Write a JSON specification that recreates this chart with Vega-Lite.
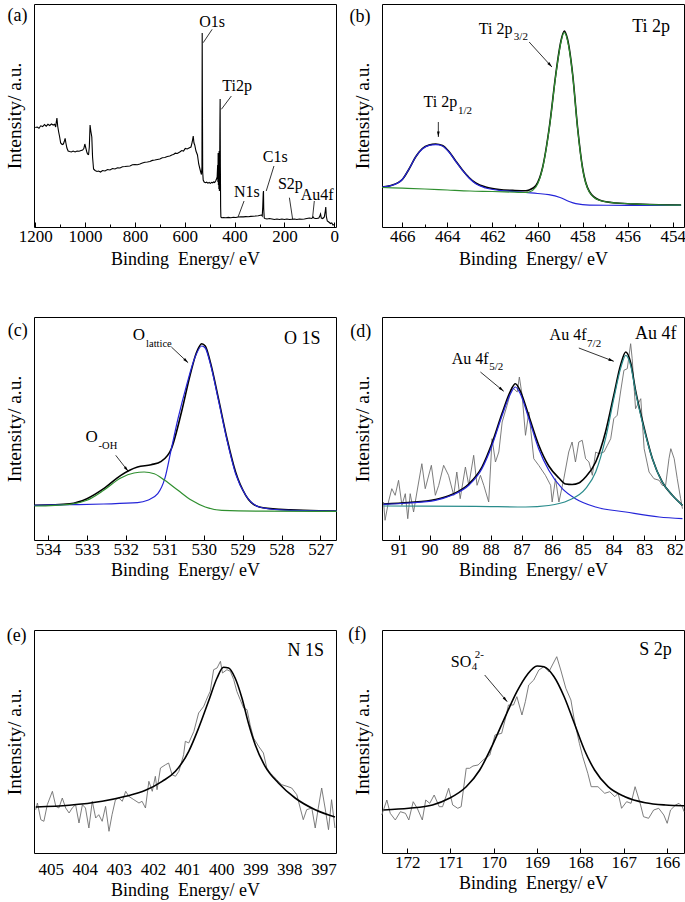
{
"$schema": "https://vega.github.io/schema/vega-lite/v6.json",
"padding": {"left": 3, "top": 3, "right": 0, "bottom": 0},
"background": "white",
"config": {
 "font": "Liberation Serif",
 "view": {"stroke": "#000", "strokeWidth": 1},
 "axis": {"grid": false, "domain": false, "labelFont": "Liberation Serif", "titleFont": "Liberation Serif", "labelFontSize": 17, "titleFontSize": 18, "titleFontWeight": "normal", "labelColor": "#000", "titleColor": "#000", "tickColor": "#000", "tickWidth": 1, "labelPadding": 6, "titlePadding": 4},
 "text": {"font": "Liberation Serif", "color": "#000"}
},
"datasets": {
 "a": [{"e":1200,"i":99.5},{"e":1192,"i":100},{"e":1185,"i":98.8},{"e":1178,"i":101.2},{"e":1170,"i":100.5},{"e":1163,"i":102.5},{"e":1156,"i":100.8},{"e":1149,"i":102.7},{"e":1142,"i":101.5},{"e":1135,"i":103},{"e":1128,"i":102},{"e":1122,"i":102.8},{"e":1118,"i":100},{"e":1115,"i":106},{"e":1113,"i":109},{"e":1110,"i":101},{"e":1106,"i":95},{"e":1102,"i":90},{"e":1098,"i":84},{"e":1092,"i":82.5},{"e":1087,"i":83},{"e":1083,"i":86},{"e":1080,"i":88.7},{"e":1077,"i":84},{"e":1073,"i":79},{"e":1068,"i":76},{"e":1062,"i":75.5},{"e":1055,"i":75},{"e":1048,"i":76},{"e":1040,"i":75},{"e":1032,"i":76},{"e":1024,"i":75.8},{"e":1016,"i":76.5},{"e":1010,"i":77},{"e":1005,"i":78.5},{"e":1001,"i":83},{"e":997,"i":79},{"e":993,"i":75},{"e":990,"i":73},{"e":986,"i":72.5},{"e":983,"i":80},{"e":980,"i":102},{"e":977,"i":96},{"e":973,"i":90},{"e":970,"i":70},{"e":966,"i":58},{"e":960,"i":56.5},{"e":952,"i":55.5},{"e":946,"i":56},{"e":938,"i":55},{"e":930,"i":56.5},{"e":920,"i":56},{"e":910,"i":57.5},{"e":900,"i":57},{"e":890,"i":58.5},{"e":880,"i":58},{"e":870,"i":59.2},{"e":860,"i":59},{"e":850,"i":60.3},{"e":840,"i":60.5},{"e":830,"i":60.8},{"e":820,"i":61},{"e":810,"i":62.2},{"e":800,"i":62.5},{"e":790,"i":62.3},{"e":780,"i":63},{"e":770,"i":64},{"e":760,"i":64.8},{"e":750,"i":65},{"e":740,"i":65.5},{"e":730,"i":66.6},{"e":720,"i":67},{"e":710,"i":67.5},{"e":700,"i":68},{"e":690,"i":69.2},{"e":680,"i":69.5},{"e":670,"i":70.5},{"e":660,"i":71},{"e":650,"i":72.3},{"e":645,"i":72.5},{"e":638,"i":73.8},{"e":630,"i":73.5},{"e":620,"i":75},{"e":612,"i":76.5},{"e":605,"i":76},{"e":598,"i":78.5},{"e":590,"i":78},{"e":583,"i":79},{"e":575,"i":80},{"e":570,"i":85},{"e":566,"i":91},{"e":563,"i":84},{"e":560,"i":82},{"e":555,"i":76},{"e":549,"i":72},{"e":544,"i":63},{"e":540,"i":59},{"e":536,"i":55},{"e":533,"i":52.5},{"e":531,"i":60},{"e":530,"i":194},{"e":529,"i":120},{"e":528,"i":55},{"e":526,"i":47},{"e":522,"i":45},{"e":517,"i":44.3},{"e":512,"i":44.8},{"e":507,"i":43.8},{"e":502,"i":44.5},{"e":497,"i":43.6},{"e":492,"i":44.7},{"e":488,"i":44.2},{"e":484,"i":45},{"e":480,"i":44.5},{"e":476,"i":46},{"e":473,"i":47.7},{"e":470,"i":50},{"e":468,"i":62},{"e":467,"i":45},{"e":466,"i":74},{"e":465,"i":42},{"e":464,"i":70},{"e":463,"i":38},{"e":462,"i":76},{"e":461,"i":36},{"e":460,"i":55},{"e":459,"i":100},{"e":458,"i":128},{"e":457,"i":60},{"e":456,"i":20},{"e":455,"i":10},{"e":452,"i":9.3},{"e":445,"i":9.5},{"e":435,"i":9.2},{"e":425,"i":9.6},{"e":415,"i":9.3},{"e":405,"i":9.8},{"e":395,"i":9.5},{"e":385,"i":10},{"e":375,"i":10.3},{"e":365,"i":10.1},{"e":355,"i":10.4},{"e":345,"i":10.2},{"e":335,"i":10.6},{"e":325,"i":10.8},{"e":315,"i":11},{"e":305,"i":11.3},{"e":297,"i":11.8},{"e":292,"i":12},{"e":289,"i":11},{"e":287,"i":20},{"e":285,"i":34},{"e":284,"i":36},{"e":283,"i":18},{"e":281,"i":9},{"e":278,"i":8.5},{"e":270,"i":8},{"e":260,"i":8.5},{"e":250,"i":8},{"e":240,"i":7.5},{"e":230,"i":8},{"e":220,"i":7.5},{"e":210,"i":8},{"e":200,"i":7.5},{"e":190,"i":8},{"e":180,"i":7.5},{"e":170,"i":7.8},{"e":160,"i":8},{"e":150,"i":7.5},{"e":140,"i":8},{"e":130,"i":7.8},{"e":120,"i":8},{"e":110,"i":8.5},{"e":100,"i":9},{"e":90,"i":8.5},{"e":85,"i":10},{"e":82,"i":9},{"e":76,"i":8.5},{"e":70,"i":8.5},{"e":62,"i":9},{"e":58,"i":11},{"e":55,"i":13},{"e":52,"i":9},{"e":46,"i":8.5},{"e":40,"i":10},{"e":36,"i":16},{"e":34,"i":20},{"e":32,"i":11},{"e":28,"i":6},{"e":22,"i":5},{"e":15,"i":3.5},{"e":10,"i":4},{"e":5,"i":2},{"e":0,"i":2.5}],
 "a_ann": [{"e":490,"i":205,"t":"O1s"},{"e":390,"i":141,"t":"Ti2p"},{"e":237,"i":70,"t":"C1s"},{"e":350.6,"i":35.3,"t":"N1s"},{"e":176,"i":43.3,"t":"S2p"},{"e":69,"i":32,"t":"Au4f"}],
 "a_lead": [{"e":526,"i":184.3,"e2":490,"i2":197.7},{"e":453,"i":117.7,"e2":413,"i2":131},{"e":273,"i":36,"e2":242,"i2":61},{"e":386,"i":10,"e2":362,"i2":26},{"e":167,"i":7.7,"e2":180,"i2":29.3},{"e":87,"i":9.3,"e2":80,"i2":26}],
 "a_lab": [{"e":1271,"i":211,"t":"(a)"}],
 "b_fit": [{"e":466.89,"i":40},{"e":466.5,"i":41.5},{"e":466.0,"i":47.5},{"e":465.7,"i":58},{"e":465.41,"i":70},{"e":465.11,"i":78.5},{"e":464.81,"i":82},{"e":464.52,"i":83},{"e":464.22,"i":81.5},{"e":463.93,"i":75.5},{"e":463.63,"i":66},{"e":463.33,"i":57},{"e":463.04,"i":49.5},{"e":462.74,"i":44},{"e":462.3,"i":40},{"e":462.0,"i":38.5},{"e":461.7,"i":37.5},{"e":461.0,"i":36.5},{"e":460.52,"i":36.2},{"e":460.37,"i":37},{"e":460.07,"i":41.5},{"e":459.78,"i":59},{"e":459.48,"i":99},{"e":459.19,"i":152.5},{"e":459.04,"i":176},{"e":458.96,"i":186},{"e":458.81,"i":196},{"e":458.67,"i":188},{"e":458.44,"i":152.5},{"e":458.22,"i":99},{"e":458.0,"i":59},{"e":457.7,"i":35.5},{"e":457.26,"i":27},{"e":456.52,"i":24},{"e":455.33,"i":22.7},{"e":453.63,"i":22}],
 "b_p12": [{"e":466.89,"i":40},{"e":466.5,"i":41.3},{"e":466.0,"i":47.5},{"e":465.7,"i":58},{"e":465.41,"i":70},{"e":465.11,"i":78},{"e":464.81,"i":81.7},{"e":464.52,"i":82.3},{"e":464.22,"i":81},{"e":463.93,"i":75},{"e":463.63,"i":65.7},{"e":463.33,"i":56.7},{"e":463.04,"i":49},{"e":462.74,"i":43.3},{"e":462.3,"i":39},{"e":461.7,"i":36.7},{"e":461.0,"i":35.5},{"e":460.52,"i":34.5},{"e":460.0,"i":33.5},{"e":459.5,"i":32.3},{"e":459.0,"i":29.5},{"e":458.6,"i":25.5},{"e":458.3,"i":23.3},{"e":457.7,"i":21.8},{"e":456.0,"i":21.7},{"e":453.63,"i":21.7}],
 "b_p32": [{"e":466.89,"i":39.5},{"e":466.0,"i":38.8},{"e":465.0,"i":38},{"e":464.0,"i":37},{"e":463.0,"i":36},{"e":462.0,"i":35.5},{"e":461.0,"i":34.8},{"e":460.52,"i":34.5},{"e":460.37,"i":35},{"e":460.07,"i":40},{"e":459.78,"i":58.3},{"e":459.48,"i":98.3},{"e":459.19,"i":151.7},{"e":459.04,"i":175},{"e":458.96,"i":185},{"e":458.81,"i":194.3},{"e":458.67,"i":186.7},{"e":458.44,"i":151.7},{"e":458.22,"i":98.3},{"e":458.0,"i":58.3},{"e":457.7,"i":35},{"e":457.26,"i":26.7},{"e":456.52,"i":24},{"e":455.33,"i":22.7},{"e":453.63,"i":21.9}],
 "b_lab": [{"e":467.88,"i":210,"t":"(b)"},{"e":454.96,"i":200,"t":"Ti 2p"}],
 "b_main": [{"e":461.11,"i":198.3,"t":"Ti 2p"},{"e":463.56,"i":125,"t":"Ti 2p"}],
 "b_sub": [{"e":461.05,"i":190,"t":"3/2"},{"e":463.53,"i":115.7,"t":"1/2"}],
 "b_arr": [{"e":460.37,"i":185,"e2":459.36,"i2":160},{"e":464.4,"i":105,"e2":464.4,"i2":90}],
 "c_fit": [{"e":534.35,"i":34.7},{"e":533.44,"i":36.3},{"e":533.0,"i":41.3},{"e":532.57,"i":51.3},{"e":532.13,"i":64.7},{"e":531.7,"i":73},{"e":531.35,"i":75.3},{"e":531.09,"i":78.7},{"e":530.83,"i":91.3},{"e":530.57,"i":128},{"e":530.35,"i":164.7},{"e":530.18,"i":188},{"e":530.05,"i":196.3},{"e":529.96,"i":194},{"e":529.83,"i":178},{"e":529.62,"i":141.3},{"e":529.4,"i":101.3},{"e":529.18,"i":68},{"e":528.92,"i":44.7},{"e":528.57,"i":33},{"e":528.05,"i":30.7},{"e":526.58,"i":29}],
 "c_lat": [{"e":534.35,"i":34.7},{"e":533.44,"i":35.3},{"e":532.57,"i":36},{"e":531.7,"i":37.3},{"e":531.44,"i":39.7},{"e":531.18,"i":46.3},{"e":531.0,"i":61.3},{"e":530.83,"i":91.3},{"e":530.66,"i":121.3},{"e":530.44,"i":154.7},{"e":530.22,"i":183},{"e":530.05,"i":194},{"e":529.96,"i":192},{"e":529.83,"i":176.3},{"e":529.62,"i":139.7},{"e":529.4,"i":99.7},{"e":529.18,"i":66.3},{"e":528.92,"i":44.7},{"e":528.57,"i":33},{"e":528.05,"i":30.2},{"e":526.58,"i":29}],
 "c_oh": [{"e":534.35,"i":34},{"e":533.44,"i":35.7},{"e":533.0,"i":39.7},{"e":532.57,"i":49.7},{"e":532.13,"i":62},{"e":531.79,"i":67},{"e":531.53,"i":68},{"e":531.27,"i":66.3},{"e":531.0,"i":59.7},{"e":530.66,"i":49.7},{"e":530.31,"i":39.7},{"e":529.96,"i":33},{"e":529.53,"i":29.7},{"e":528.5,"i":28.8},{"e":526.58,"i":28.7}],
 "c_lab": [{"e":534.78,"i":209,"t":"(c)"},{"e":527.47,"i":201.3,"t":"O 1S"}],
 "c_main": [{"e":531.51,"i":204.7,"t":"O"},{"e":532.72,"i":103,"t":"O"}],
 "c_sub": [{"e":531.48,"i":196.3,"t":"lattice"},{"e":532.7,"i":94,"t":"-OH"}],
 "c_arr": [{"e":530.83,"i":193,"e2":530.4,"i2":177.3},{"e":532.26,"i":84.7,"e2":531.94,"i2":68.7}],
 "d_data": [{"e":91.5,"i":38},{"e":91.45,"i":19.7},{"e":91.34,"i":38},{"e":91.23,"i":51.3},{"e":91.12,"i":44.7},{"e":91.01,"i":59.7},{"e":90.9,"i":34.7},{"e":90.79,"i":46.3},{"e":90.71,"i":21.3},{"e":90.63,"i":46.3},{"e":90.52,"i":28},{"e":90.41,"i":48},{"e":90.25,"i":76.3},{"e":90.14,"i":51.3},{"e":89.94,"i":74.7},{"e":89.81,"i":44.7},{"e":89.7,"i":54.7},{"e":89.54,"i":74.7},{"e":89.38,"i":64.7},{"e":89.21,"i":44.7},{"e":89.11,"i":68},{"e":89.0,"i":41.3},{"e":88.83,"i":73},{"e":88.72,"i":54.7},{"e":88.56,"i":84.7},{"e":88.45,"i":54.7},{"e":88.34,"i":64.7},{"e":88.23,"i":54.7},{"e":88.07,"i":38},{"e":87.96,"i":101.3},{"e":87.85,"i":78},{"e":87.74,"i":88},{"e":87.63,"i":118},{"e":87.47,"i":134.7},{"e":87.31,"i":153},{"e":87.14,"i":148},{"e":87.07,"i":163},{"e":86.98,"i":144.7},{"e":86.87,"i":104.7},{"e":86.76,"i":128},{"e":86.6,"i":81.3},{"e":86.44,"i":74.7},{"e":86.22,"i":64.7},{"e":86.05,"i":54.7},{"e":86.0,"i":38},{"e":85.89,"i":61.3},{"e":85.78,"i":38},{"e":85.62,"i":61.3},{"e":85.46,"i":88},{"e":85.35,"i":98},{"e":85.24,"i":78},{"e":85.13,"i":98},{"e":85.02,"i":99.7},{"e":84.91,"i":81.3},{"e":84.8,"i":78},{"e":84.69,"i":64.7},{"e":84.58,"i":88},{"e":84.48,"i":86.3},{"e":84.31,"i":88},{"e":84.2,"i":94.7},{"e":84.09,"i":101.3},{"e":83.99,"i":121.3},{"e":83.88,"i":124.7},{"e":83.77,"i":148},{"e":83.66,"i":169.7},{"e":83.55,"i":171.3},{"e":83.44,"i":196.3},{"e":83.39,"i":181.3},{"e":83.28,"i":131.3},{"e":83.11,"i":141.3},{"e":83.0,"i":91.3},{"e":82.84,"i":68},{"e":82.68,"i":61.3},{"e":82.51,"i":59.7},{"e":82.41,"i":54.7},{"e":82.3,"i":54.7},{"e":82.19,"i":81.3},{"e":82.13,"i":91.3},{"e":82.02,"i":81.3},{"e":81.92,"i":61.3},{"e":81.81,"i":41.3},{"e":81.75,"i":31.3}],
 "d_fit": [{"e":91.5,"i":36},{"e":90.68,"i":37.5},{"e":89.81,"i":40.5},{"e":89.27,"i":45.5},{"e":88.72,"i":56},{"e":88.29,"i":73},{"e":87.96,"i":97},{"e":87.63,"i":127},{"e":87.36,"i":149},{"e":87.2,"i":156.3},{"e":87.04,"i":149},{"e":86.76,"i":124},{"e":86.44,"i":95},{"e":86.11,"i":74},{"e":85.78,"i":62},{"e":85.56,"i":56},{"e":85.35,"i":55.5},{"e":85.13,"i":57},{"e":84.91,"i":63},{"e":84.58,"i":78},{"e":84.26,"i":108},{"e":83.99,"i":144.7},{"e":83.77,"i":174.7},{"e":83.6,"i":188},{"e":83.44,"i":177.3},{"e":83.28,"i":149.7},{"e":83.06,"i":119.7},{"e":82.73,"i":81.3},{"e":82.41,"i":58},{"e":82.08,"i":44.7},{"e":81.75,"i":34.7}],
 "d_52": [{"e":91.5,"i":35.7},{"e":90.68,"i":37},{"e":89.81,"i":39.7},{"e":89.27,"i":44.7},{"e":88.72,"i":54.7},{"e":88.29,"i":71.3},{"e":87.96,"i":94.7},{"e":87.63,"i":124.7},{"e":87.36,"i":146.3},{"e":87.2,"i":153},{"e":87.04,"i":146.3},{"e":86.76,"i":121.3},{"e":86.44,"i":91.3},{"e":86.11,"i":69.7},{"e":85.67,"i":51.3},{"e":85.24,"i":41.3},{"e":84.58,"i":33},{"e":83.6,"i":28},{"e":82.51,"i":23},{"e":81.75,"i":21.3}],
 "d_72": [{"e":91.5,"i":34},{"e":88.51,"i":33.7},{"e":86.87,"i":33},{"e":86.11,"i":34.5},{"e":85.46,"i":39.7},{"e":84.91,"i":51.3},{"e":84.58,"i":68},{"e":84.26,"i":101.3},{"e":83.99,"i":141.3},{"e":83.77,"i":171.3},{"e":83.6,"i":184.7},{"e":83.44,"i":174.7},{"e":83.28,"i":148},{"e":83.06,"i":118},{"e":82.73,"i":81.3},{"e":82.41,"i":58},{"e":82.08,"i":44.7},{"e":81.75,"i":34.7}],
 "d_lab": [{"e":92.24,"i":208,"t":"(d)"},{"e":82.62,"i":206.3,"t":"Au 4f"}],
 "d_main": [{"e":84.88,"i":204.7,"t":"Au 4f"},{"e":88.07,"i":180.7,"t":"Au 4f"}],
 "d_sub": [{"e":84.86,"i":196.3,"t":"7/2"},{"e":88.05,"i":173,"t":"5/2"}],
 "d_arr": [{"e":85.13,"i":192,"e2":83.99,"i2":178.7},{"e":88.34,"i":168,"e2":87.58,"i2":148.7}],
 "e_data": [{"e":405.44,"i":43.3},{"e":405.39,"i":50},{"e":405.29,"i":33.3},{"e":405.2,"i":31.7},{"e":405.1,"i":48.3},{"e":404.95,"i":61.7},{"e":404.85,"i":46.7},{"e":404.76,"i":45},{"e":404.66,"i":55},{"e":404.56,"i":45},{"e":404.46,"i":40},{"e":404.37,"i":45},{"e":404.27,"i":48.3},{"e":404.17,"i":30},{"e":404.07,"i":48.3},{"e":403.98,"i":45},{"e":403.88,"i":25},{"e":403.78,"i":51.7},{"e":403.68,"i":35},{"e":403.59,"i":38.3},{"e":403.49,"i":31.7},{"e":403.39,"i":46.7},{"e":403.29,"i":21.7},{"e":403.2,"i":38.3},{"e":403.1,"i":53.3},{"e":403.0,"i":55},{"e":402.9,"i":51.7},{"e":402.8,"i":61.7},{"e":402.71,"i":56.7},{"e":402.56,"i":53.3},{"e":402.41,"i":50},{"e":402.32,"i":51.7},{"e":402.22,"i":45},{"e":402.12,"i":71.7},{"e":402.02,"i":61.7},{"e":401.93,"i":76.7},{"e":401.88,"i":63.3},{"e":401.78,"i":85},{"e":401.63,"i":88.3},{"e":401.54,"i":90},{"e":401.44,"i":78.3},{"e":401.34,"i":76.7},{"e":401.24,"i":81.7},{"e":401.1,"i":98.3},{"e":401.05,"i":111.7},{"e":400.95,"i":110},{"e":400.8,"i":121.7},{"e":400.66,"i":140},{"e":400.51,"i":146.7},{"e":400.41,"i":155},{"e":400.32,"i":161.7},{"e":400.22,"i":183.3},{"e":400.12,"i":185},{"e":400.02,"i":191.7},{"e":399.96,"i":180},{"e":399.83,"i":183.3},{"e":399.73,"i":181.7},{"e":399.63,"i":173.3},{"e":399.54,"i":161.7},{"e":399.44,"i":153.3},{"e":399.34,"i":145},{"e":399.24,"i":143.3},{"e":399.15,"i":128.3},{"e":399.05,"i":115},{"e":398.9,"i":106.7},{"e":398.76,"i":100},{"e":398.66,"i":85},{"e":398.56,"i":80},{"e":398.46,"i":76.7},{"e":398.37,"i":73.3},{"e":398.22,"i":68.3},{"e":398.07,"i":66.7},{"e":397.93,"i":65},{"e":397.78,"i":58.3},{"e":397.68,"i":45},{"e":397.59,"i":33.3},{"e":397.49,"i":43.3},{"e":397.34,"i":45},{"e":397.24,"i":25},{"e":397.15,"i":45},{"e":397.05,"i":65},{"e":396.95,"i":45},{"e":396.85,"i":23.3},{"e":396.76,"i":53.3},{"e":396.66,"i":25}],
 "e_fit": [{"e":405.44,"i":46},{"e":404.46,"i":47.7},{"e":403.49,"i":51.7},{"e":402.8,"i":56.7},{"e":402.22,"i":62.7},{"e":401.73,"i":71.7},{"e":401.34,"i":81.7},{"e":400.95,"i":101.7},{"e":400.66,"i":125},{"e":400.37,"i":151.7},{"e":400.12,"i":175},{"e":399.93,"i":185.7},{"e":399.78,"i":185},{"e":399.59,"i":175},{"e":399.39,"i":155},{"e":399.2,"i":130},{"e":399.0,"i":108.3},{"e":398.71,"i":86.7},{"e":398.32,"i":70},{"e":397.83,"i":55},{"e":397.24,"i":43.3},{"e":396.66,"i":36}],
 "e_lab": [{"e":406.0,"i":216.7,"t":"(e)"},{"e":397.52,"i":201.7,"t":"N 1S"}],
 "f_data": [{"e":172.585,"i":38},{"e":172.468,"i":53},{"e":172.39,"i":39.7},{"e":172.273,"i":33},{"e":172.156,"i":41.3},{"e":172.039,"i":39.7},{"e":171.961,"i":33},{"e":171.86,"i":51.3},{"e":171.766,"i":44.7},{"e":171.649,"i":33},{"e":171.571,"i":53},{"e":171.478,"i":49.7},{"e":171.376,"i":58},{"e":171.26,"i":46.3},{"e":171.182,"i":46.3},{"e":171.041,"i":64.7},{"e":170.948,"i":48},{"e":170.831,"i":44.7},{"e":170.753,"i":46.3},{"e":170.636,"i":84.7},{"e":170.558,"i":84.7},{"e":170.48,"i":87},{"e":170.363,"i":88},{"e":170.246,"i":93},{"e":170.09,"i":98},{"e":169.973,"i":118},{"e":169.818,"i":119.7},{"e":169.74,"i":133},{"e":169.662,"i":148},{"e":169.545,"i":148},{"e":169.467,"i":156.3},{"e":169.35,"i":138},{"e":169.272,"i":151.3},{"e":169.194,"i":168},{"e":169.077,"i":173},{"e":168.96,"i":183},{"e":168.843,"i":186.3},{"e":168.726,"i":181.3},{"e":168.648,"i":188},{"e":168.547,"i":196.3},{"e":168.454,"i":183},{"e":168.337,"i":164.7},{"e":168.22,"i":153},{"e":168.142,"i":133},{"e":168.025,"i":109.7},{"e":167.947,"i":96.3},{"e":167.83,"i":79.7},{"e":167.752,"i":66.3},{"e":167.596,"i":66.3},{"e":167.44,"i":59.7},{"e":167.323,"i":61.3},{"e":167.207,"i":56.3},{"e":167.129,"i":59.7},{"e":167.051,"i":44.7},{"e":166.934,"i":51.3},{"e":166.832,"i":49.7},{"e":166.739,"i":66.3},{"e":166.622,"i":49.7},{"e":166.544,"i":36.3},{"e":166.427,"i":34.7},{"e":166.31,"i":43},{"e":166.193,"i":44.7},{"e":166.076,"i":38},{"e":165.998,"i":29.7},{"e":165.921,"i":43},{"e":165.804,"i":48},{"e":165.726,"i":49.7},{"e":165.648,"i":46.3},{"e":165.609,"i":41.3}],
 "f_fit": [{"e":172.546,"i":43},{"e":171.961,"i":44.7},{"e":171.415,"i":48},{"e":171.026,"i":54.7},{"e":170.636,"i":66.3},{"e":170.324,"i":83},{"e":170.012,"i":109.7},{"e":169.701,"i":139.7},{"e":169.467,"i":161.3},{"e":169.233,"i":178},{"e":169.0,"i":187},{"e":168.843,"i":186.3},{"e":168.609,"i":176.3},{"e":168.376,"i":156.3},{"e":168.142,"i":129.7},{"e":167.908,"i":103},{"e":167.674,"i":83},{"e":167.362,"i":66.3},{"e":166.973,"i":56.3},{"e":166.505,"i":50.3},{"e":166.037,"i":48},{"e":165.609,"i":47.3}],
 "f_lab": [{"e":173.15,"i":218,"t":"(f)"},{"e":166.27,"i":203,"t":"S 2p"}],
 "f_main": [{"e":170.52,"i":191.3,"t":"SO"}],
 "f_sub": [{"e":170.51,"i":185.7,"t":"4"}],
 "f_sup": [{"e":170.44,"i":198,"t":"2-"}],
 "f_arr": [{"e":170.21,"i":178,"e2":169.69,"i2":151.3}]
},
"columns": 2,
"spacing": {"row": 90, "column": 46},
"bounds": "flush",
"concat": [
  {"width": 302, "height": 223,
   "encoding": {
    "x": {"field": "e", "type": "quantitative", "scale": {"domain": [-7, 1205], "reverse": true, "nice": false, "zero": false},
     "axis": {"title": "Binding\u00a0 Energy/ eV", "values": [1200,1100,1000,900,800,700,600,500,400,300,200,100,0], "format": "d", "labelExpr": "datum.value % 200 == 0 ? datum.label : ''", "tickSize": {"condition": {"test": "datum.value % 200 == 0", "value": -5}, "value": -3}, "labelOverlap": false, "labelFlush": false}},
    "y": {"field": "i", "type": "quantitative", "scale": {"domain": [0, 223], "nice": false, "zero": false},
     "axis": {"title": "Intensity/ a.u.", "labels": false, "ticks": false, "titlePadding": 10, "titleFontSize": 19.5}}
   },
   "layer": [
    {"data": {"name": "a"}, "mark": {"type": "line", "color": "#000", "strokeWidth": 1.1}},
    {"data": {"name": "a_lead"}, "mark": {"type": "rule", "color": "#000", "strokeWidth": 0.8}, "encoding": {"x2": {"field": "e2"}, "y2": {"field": "i2"}}},
    {"data": {"name": "a_ann"}, "mark": {"type": "text", "fontSize": 16}, "encoding": {"text": {"field": "t"}}},
    {"data": {"name": "a_lab"}, "mark": {"type": "text", "fontSize": 18}, "encoding": {"text": {"field": "t"}}}
   ]},
  {"width": 302, "height": 223,
   "encoding": {
    "x": {"field": "e", "type": "quantitative", "scale": {"domain": [453.5, 466.9], "reverse": true, "nice": false, "zero": false},
     "axis": {"title": "Binding\u00a0 Energy/ eV", "values": [466,465,464,463,462,461,460,459,458,457,456,455,454], "format": "d", "labelExpr": "datum.value % 2 == 0 ? datum.label : ''", "tickSize": {"condition": {"test": "datum.value % 2 == 0", "value": -5}, "value": -3}, "labelOverlap": false, "labelFlush": false}},
    "y": {"field": "i", "type": "quantitative", "scale": {"domain": [0, 223], "nice": false, "zero": false},
     "axis": {"title": "Intensity/ a.u.", "labels": false, "ticks": false, "titlePadding": 10, "titleFontSize": 19.5}}
   },
   "layer": [
    {"data": {"name": "b_fit"}, "mark": {"type": "line", "color": "#000", "strokeWidth": 1.6, "interpolate": "monotone"}},
    {"data": {"name": "b_p12"}, "mark": {"type": "line", "color": "#2424d8", "strokeWidth": 1.2, "interpolate": "monotone"}},
    {"data": {"name": "b_p32"}, "mark": {"type": "line", "color": "#2f8f2f", "strokeWidth": 1.2, "interpolate": "monotone"}},
    {"data": {"name": "b_arr"}, "mark": {"type": "rule", "color": "#000", "strokeWidth": 0.8}, "encoding": {"x2": {"field": "e2"}, "y2": {"field": "i2"}}},
    {"data": {"values": [{"e": 459.36, "i": 160}]}, "mark": {"type": "point", "shape": "M0,0L-0.45,1.8L0.45,1.8Z", "filled": true, "color": "#000", "opacity": 1, "size": 36, "angle": 138}},
    {"data": {"values": [{"e": 464.4, "i": 90}]}, "mark": {"type": "point", "shape": "M0,0L-0.45,1.8L0.45,1.8Z", "filled": true, "color": "#000", "opacity": 1, "size": 36, "angle": 180}},
    {"data": {"name": "b_main"}, "mark": {"type": "text", "fontSize": 16, "align": "right"}, "encoding": {"text": {"field": "t"}}},
    {"data": {"name": "b_sub"}, "mark": {"type": "text", "fontSize": 11, "align": "left"}, "encoding": {"text": {"field": "t"}}},
    {"data": {"name": "b_lab"}, "mark": {"type": "text", "fontSize": 18}, "encoding": {"text": {"field": "t"}}}
   ]},
  {"width": 302, "height": 223,
   "encoding": {
    "x": {"field": "e", "type": "quantitative", "scale": {"domain": [526.6, 534.36], "reverse": true, "nice": false, "zero": false},
     "axis": {"title": "Binding\u00a0 Energy/ eV", "values": [534,533.5,533,532.5,532,531.5,531,530.5,530,529.5,529,528.5,528,527.5,527], "format": "d", "labelExpr": "datum.value % 1 == 0 ? datum.label : ''", "tickSize": {"condition": {"test": "datum.value % 1 == 0", "value": -5}, "value": -3}, "labelOverlap": false, "labelFlush": false}},
    "y": {"field": "i", "type": "quantitative", "scale": {"domain": [0, 223], "nice": false, "zero": false},
     "axis": {"title": "Intensity/ a.u.", "labels": false, "ticks": false, "titlePadding": 10, "titleFontSize": 19.5}}
   },
   "layer": [
    {"data": {"name": "c_fit"}, "mark": {"type": "line", "color": "#000", "strokeWidth": 1.6, "interpolate": "monotone"}},
    {"data": {"name": "c_lat"}, "mark": {"type": "line", "color": "#2424d8", "strokeWidth": 1.2, "interpolate": "monotone"}},
    {"data": {"name": "c_oh"}, "mark": {"type": "line", "color": "#2f8f2f", "strokeWidth": 1.2, "interpolate": "monotone"}},
    {"data": {"name": "c_arr"}, "mark": {"type": "rule", "color": "#000", "strokeWidth": 0.8}, "encoding": {"x2": {"field": "e2"}, "y2": {"field": "i2"}}},
    {"data": {"values": [{"e": 530.4, "i": 177.3}]}, "mark": {"type": "point", "shape": "M0,0L-0.45,1.8L0.45,1.8Z", "filled": true, "color": "#000", "opacity": 1, "size": 36, "angle": 133}},
    {"data": {"values": [{"e": 531.94, "i": 68.7}]}, "mark": {"type": "point", "shape": "M0,0L-0.45,1.8L0.45,1.8Z", "filled": true, "color": "#000", "opacity": 1, "size": 36, "angle": 142}},
    {"data": {"name": "c_main"}, "mark": {"type": "text", "fontSize": 17, "align": "right"}, "encoding": {"text": {"field": "t"}}},
    {"data": {"name": "c_sub"}, "mark": {"type": "text", "fontSize": 10.5, "align": "left"}, "encoding": {"text": {"field": "t"}}},
    {"data": {"name": "c_lab"}, "mark": {"type": "text", "fontSize": 18}, "encoding": {"text": {"field": "t"}}}
   ]},
  {"width": 302, "height": 223,
   "encoding": {
    "x": {"field": "e", "type": "quantitative", "scale": {"domain": [81.7, 91.55], "reverse": true, "nice": false, "zero": false},
     "axis": {"title": "Binding\u00a0 Energy/ eV", "values": [91.5,91,90.5,90,89.5,89,88.5,88,87.5,87,86.5,86,85.5,85,84.5,84,83.5,83,82.5,82], "format": "d", "labelExpr": "datum.value % 1 == 0 ? datum.label : ''", "tickSize": {"condition": {"test": "datum.value % 1 == 0", "value": -5}, "value": -3}, "labelOverlap": false, "labelFlush": false}},
    "y": {"field": "i", "type": "quantitative", "scale": {"domain": [0, 223], "nice": false, "zero": false},
     "axis": {"title": "Intensity/ a.u.", "labels": false, "ticks": false, "titlePadding": 10, "titleFontSize": 19.5}}
   },
   "layer": [
    {"data": {"name": "d_data"}, "mark": {"type": "line", "color": "#6e6e6e", "strokeWidth": 0.9}},
    {"data": {"name": "d_fit"}, "mark": {"type": "line", "color": "#000", "strokeWidth": 1.6, "interpolate": "monotone"}},
    {"data": {"name": "d_52"}, "mark": {"type": "line", "color": "#2424d8", "strokeWidth": 1.2, "interpolate": "monotone"}},
    {"data": {"name": "d_72"}, "mark": {"type": "line", "color": "#2a8c8c", "strokeWidth": 1.2, "interpolate": "monotone"}},
    {"data": {"name": "d_arr"}, "mark": {"type": "rule", "color": "#000", "strokeWidth": 0.8}, "encoding": {"x2": {"field": "e2"}, "y2": {"field": "i2"}}},
    {"data": {"values": [{"e": 83.99, "i": 178.7}]}, "mark": {"type": "point", "shape": "M0,0L-0.45,1.8L0.45,1.8Z", "filled": true, "color": "#000", "opacity": 1, "size": 36, "angle": 111}},
    {"data": {"values": [{"e": 87.58, "i": 148.7}]}, "mark": {"type": "point", "shape": "M0,0L-0.45,1.8L0.45,1.8Z", "filled": true, "color": "#000", "opacity": 1, "size": 36, "angle": 130}},
    {"data": {"name": "d_main"}, "mark": {"type": "text", "fontSize": 16, "align": "right"}, "encoding": {"text": {"field": "t"}}},
    {"data": {"name": "d_sub"}, "mark": {"type": "text", "fontSize": 11, "align": "left"}, "encoding": {"text": {"field": "t"}}},
    {"data": {"name": "d_lab"}, "mark": {"type": "text", "fontSize": 18}, "encoding": {"text": {"field": "t"}}}
   ]},
  {"width": 302, "height": 223,
   "encoding": {
    "x": {"field": "e", "type": "quantitative", "scale": {"domain": [396.63, 405.49], "reverse": true, "nice": false, "zero": false},
     "axis": {"title": "Binding\u00a0 Energy/ eV", "values": [405,404,403,402,401,400,399,398,397], "format": "d", "ticks": false, "labelPadding": 8, "labelOverlap": false, "labelFlush": false}},
    "y": {"field": "i", "type": "quantitative", "scale": {"domain": [0, 223], "nice": false, "zero": false},
     "axis": {"title": "Intensity/ a.u.", "labels": false, "ticks": false, "titlePadding": 10, "titleFontSize": 19.5}}
   },
   "layer": [
    {"data": {"name": "e_data"}, "mark": {"type": "line", "color": "#6e6e6e", "strokeWidth": 0.9}},
    {"data": {"name": "e_fit"}, "mark": {"type": "line", "color": "#000", "strokeWidth": 1.6, "interpolate": "monotone"}},
    {"data": {"name": "e_lab"}, "mark": {"type": "text", "fontSize": 18}, "encoding": {"text": {"field": "t"}}}
   ]},
  {"width": 302, "height": 223,
   "encoding": {
    "x": {"field": "e", "type": "quantitative", "scale": {"domain": [165.61, 172.58], "reverse": true, "nice": false, "zero": false},
     "axis": {"title": "Binding\u00a0 Energy/ eV", "values": [172.5,172,171.5,171,170.5,170,169.5,169,168.5,168,167.5,167,166.5,166], "format": "d", "labelExpr": "datum.value % 1 == 0 ? datum.label : ''", "tickSize": {"condition": {"test": "datum.value % 1 == 0", "value": -5}, "value": -3}, "labelOverlap": false, "labelFlush": false}},
    "y": {"field": "i", "type": "quantitative", "scale": {"domain": [0, 223], "nice": false, "zero": false},
     "axis": {"title": "Intensity/ a.u.", "labels": false, "ticks": false, "titlePadding": 10, "titleFontSize": 19.5}}
   },
   "layer": [
    {"data": {"name": "f_data"}, "mark": {"type": "line", "color": "#6e6e6e", "strokeWidth": 0.9}},
    {"data": {"name": "f_fit"}, "mark": {"type": "line", "color": "#000", "strokeWidth": 1.6, "interpolate": "monotone"}},
    {"data": {"name": "f_arr"}, "mark": {"type": "rule", "color": "#000", "strokeWidth": 0.8}, "encoding": {"x2": {"field": "e2"}, "y2": {"field": "i2"}}},
    {"data": {"values": [{"e": 169.69, "i": 151.3}]}, "mark": {"type": "point", "shape": "M0,0L-0.45,1.8L0.45,1.8Z", "filled": true, "color": "#000", "opacity": 1, "size": 36, "angle": 140}},
    {"data": {"name": "f_main"}, "mark": {"type": "text", "fontSize": 16, "align": "right"}, "encoding": {"text": {"field": "t"}}},
    {"data": {"name": "f_sub"}, "mark": {"type": "text", "fontSize": 11, "align": "left"}, "encoding": {"text": {"field": "t"}}},
    {"data": {"name": "f_sup"}, "mark": {"type": "text", "fontSize": 11, "align": "left"}, "encoding": {"text": {"field": "t"}}},
    {"data": {"name": "f_lab"}, "mark": {"type": "text", "fontSize": 18}, "encoding": {"text": {"field": "t"}}}
   ]}
]
}
